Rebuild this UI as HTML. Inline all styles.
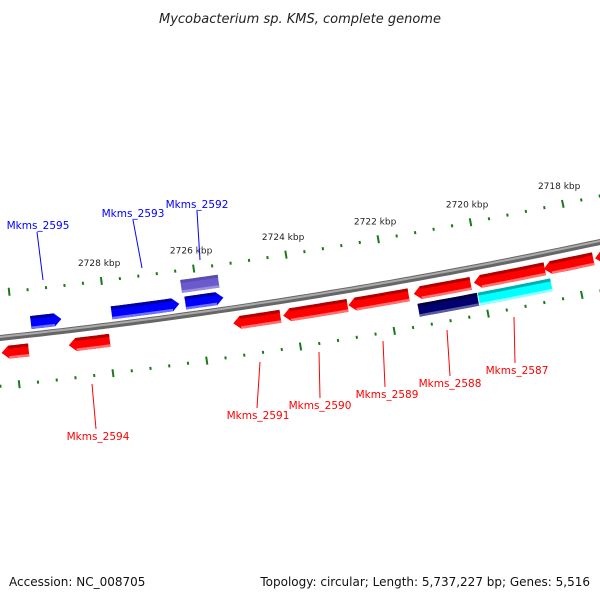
<!DOCTYPE html>
<html><head><meta charset="utf-8"><style>
html,body{margin:0;padding:0;background:#fff;}
svg{display:block;font-family:"DejaVu Sans","Liberation Sans",sans-serif;}
</style></head><body>
<svg id="map" width="600" height="600" viewBox="0 0 600 600">
<text x="300" y="23" text-anchor="middle" font-size="13" font-style="italic" fill="#222">Mycobacterium sp. KMS, complete genome</text>
<text x="9" y="586" font-size="12" fill="#111">Accession: NC_008705</text>
<text x="590" y="586" text-anchor="end" font-size="12" fill="#111">Topology: circular; Length: 5,737,227 bp; Genes: 5,516</text>
<g id="layer"></g>
</svg>
<script>
// data (kbp)
const tickMajor = [2730, 2728, 2726, 2724, 2722, 2720, 2718, 2716];
const tickLabels = ["2728 kbp","2726 kbp","2724 kbp","2722 kbp","2720 kbp","2718 kbp"];
const tickLabelPos = [2728, 2726, 2724, 2722, 2720, 2718];
const geneNames = ["","Mkms_2595","Mkms_2594","Mkms_2593","Mkms_2592","","Mkms_2591","Mkms_2590","Mkms_2589","Mkms_2588","","Mkms_2587","","",""];
const geneStart = [2730.30,2729.61,2728.86,2727.87,2726.28,2726.32,2725.33,2724.26,2722.86,2721.46,2721.42,2720.17,2720.13,2718.67,2717.57];
const geneEnd   = [2729.72,2728.95,2727.98,2726.41,2725.46,2725.51,2724.32,2722.88,2721.57,2720.24,2720.15,2718.65,2718.58,2717.61,2717.10];
const geneTrack = [1,-1,1,-1,-1,-2,1,1,1,1,2,1,2,1,1];
const geneKind  = ["cds","cds","cds","cds","cds","misc","cds","cds","cds","cds","navy","cds","rna","cds","cds"];

const NS="http://www.w3.org/2000/svg";
const layer=document.getElementById('layer');
const B=-0.1067, C=-0.0000889;
function xOf(k){return 107+(2728-k)*46.5;}
function yb(x){return 338+B*x+C*x*x;}
function pt(x,off){const d=B+2*C*x;const L=Math.sqrt(1+d*d);const nx=-d/L, ny=1/L;return [x+nx*off, yb(x)+ny*off];}
function mk(tag,attrs){const e=document.createElementNS(NS,tag);for(const k in attrs)e.setAttribute(k,attrs[k]);layer.appendChild(e);return e;}

// backbone
let d="";for(let x=-20;x<=620;x+=10){const p=pt(x,0);d+=(x===-20?"M":"L")+p[0].toFixed(1)+","+p[1].toFixed(1);}
let bb=mk('path',{d:d,stroke:'#666',"stroke-width":6,fill:'none'});


let bb2=mk('path',{d:d,stroke:'#aaa',"stroke-width":2,fill:'none',transform:'translate(0,-1)'});



// ticks
for(let k=2731.2;k>=2716;k-=0.4){
  const kk=Math.round(k*10)/10;
  const major=tickMajor.some(m=>Math.abs(m-kk)<0.05);
  const len=major?4:1.5;
  [-45,48].forEach(o=>{
    const x=xOf(kk);const a=pt(x,o-len),b=pt(x,o+len);
    const t=mk('line',{x1:a[0],y1:a[1],x2:b[0],y2:b[1],stroke:'#1a7a1a',"stroke-width":2});
    
    
  });
}
tickLabelPos.forEach((k,i)=>{
  const p=pt(xOf(k),-63);
  const t=mk('text',{x:p[0],y:p[1]+3,"text-anchor":"middle","font-size":9,fill:'#222'});
  t.textContent=tickLabels[i];
  
  
});

// genes
function band(x1,x2,o1,o2){let a=[],b=[];const n=8;for(let i=0;i<=n;i++){const x=x1+(x2-x1)*i/n;a.push(pt(x,o1));b.unshift(pt(x,o2));}return a.concat(b);}
geneStart.forEach((s,i)=>{
  let x1=xOf(s),x2=xOf(geneEnd[i]);
  const tr=geneTrack[i];
  const center={1:15,'-1':-12,2:32,'-2':-29}[tr];
  const h=13, o1=center-h/2, o2=center+h/2;
  const kind=geneKind[i];
  let cols;
  if(kind==='misc') cols=['#5a4cb0','#6a5acd','#9a8ee0'];
  else if(kind==='rna') cols=['#00b0b0','#00ffff','#90ffff'];
  else if(kind==='navy') cols=['#000040','#000070','#5a5aa0'];
  else if(tr>0) cols=['#b00000','#ff0000','#ff7070'];
  else cols=['#0000a0','#0000ff','#7070ff'];
  const arrow=(kind==='cds');
  const g=document.createElementNS(NS,'g');layer.appendChild(g);
  
  
  let poly=[];
  if(arrow && tr<0){
    const xe=x2-7; poly=band(x1,xe,o1,o2); const tip=pt(x2,center);
    poly.splice(9,0,tip);
  } else if(arrow){
    const xs=x1+7; poly=band(xs,x2,o1,o2); const tip=pt(x1,center); poly.push(tip);
  } else poly=band(x1,x2,o1,o2);
  const ps=poly.map(p=>p[0].toFixed(1)+","+p[1].toFixed(1)).join(" ");
  const e=document.createElementNS(NS,'polygon');e.setAttribute('points',ps);e.setAttribute('fill',cols[1]);g.appendChild(e);
  const xa=arrow&&tr>0?x1+7:x1, xb=arrow&&tr<0?x2-7:x2;
  const top=band(xa,xb,o1,o1+3).map(p=>p[0].toFixed(1)+","+p[1].toFixed(1)).join(" ");
  const bot=band(xa,xb,o2-2.5,o2).map(p=>p[0].toFixed(1)+","+p[1].toFixed(1)).join(" ");
  const e2=document.createElementNS(NS,'polygon');e2.setAttribute('points',top);e2.setAttribute('fill',cols[0]);g.appendChild(e2);
  const e3=document.createElementNS(NS,'polygon');e3.setAttribute('points',bot);e3.setAttribute('fill',cols[2]);g.appendChild(e3);
});

// labels
const labelInfo=[["Mkms_2595",38,229,"#0000ff",37,232,43,280],["Mkms_2593",133,217,"#0000ff",133,220,142,268],["Mkms_2592",197,208,"#0000ff",197,211,200,260],
["Mkms_2594",98,440,"#ff0000",92,384,96,429],["Mkms_2591",258,419,"#ff0000",260,362,257,408],["Mkms_2590",320,409,"#ff0000",319,352,320,398],
["Mkms_2589",387,398,"#ff0000",383,341,385,387],["Mkms_2588",450,387,"#ff0000",447,330,450,376],["Mkms_2587",517,374,"#ff0000",514,317,515,363]];
labelInfo.forEach(l=>{
  const ln=mk('line',{x1:l[4],y1:l[5],x2:l[6],y2:l[7],stroke:l[3],"stroke-width":1});
  
  
  const t=mk('text',{x:l[1],y:l[2],"text-anchor":"middle","font-size":10.5,fill:l[3]});
  t.textContent=l[0];
  
  
});
</script>
</body></html>
